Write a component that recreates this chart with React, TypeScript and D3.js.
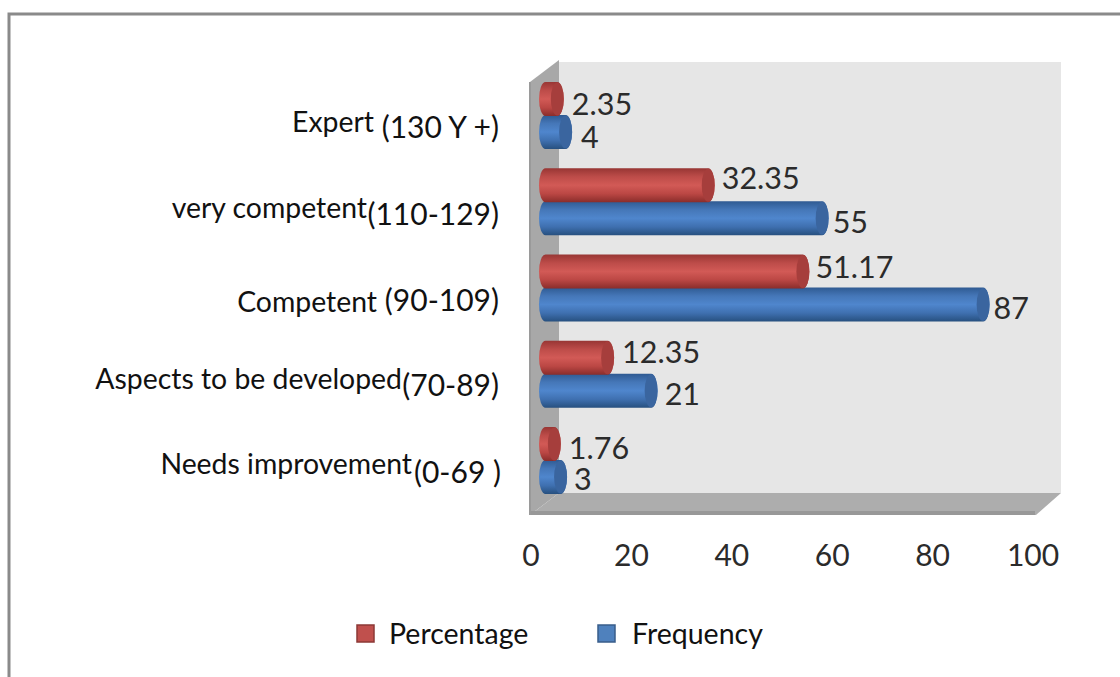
import React from "react";
import * as d3 from "d3";

const categories = ["Expert", "very competent", "Competent", "Aspects to be developed", "Needs improvement"];
const ranges = ["(130 Y +)", "(110-129)", "(90-109)", "(70-89)", "(0-69 )"];
const percentage = [2.35, 32.35, 51.17, 12.35, 1.76];
const frequency = [4, 55, 87, 21, 3];
const ticks = [0, 20, 40, 60, 80, 100];

// Hand-placed text offsets, as the labels sit slightly unevenly in this layout.
const percentageNudge = [[8, 4], [7, -8], [6, -6], [8, -7], [8, 3]];
const frequencyNudge = [[9, 4], [4, 3], [4, 2], [7, 2], [7, 1]];
const nameEnd = [374, 367, 377, 402, 412];
const nameY = [121, 207, 301, 378, 463];
const rangeEnd = [499, 499, 499, 499, 501];
const rangeY = [126, 213, 299, 384, 471];

const WIDTH = 1120;
const HEIGHT = 677;
const FONT = "Lato, 'Open Sans', sans-serif";

const tickX = d3.scaleLinear().domain([0, 100]).range([531, 1033]);
const barX = d3.scaleLinear().domain([0, 100]).range([545.5, 1048.5]);
const groupY = d3.scalePoint<string>().domain(categories).range([115, 460]);

const BAR_H = 34;
const CAP_RX = 6.5;

function barPath(x0: number, x1: number, cy: number) {
  const h = BAR_H / 2;
  return `M${x0},${cy - h} L${x1},${cy - h} A${CAP_RX},${h} 0 0 1 ${x1},${cy + h} L${x0},${cy + h} A${CAP_RX},${h} 0 0 1 ${x0},${cy - h} Z`;
}

function Bar({ value, cy, fill, cap }: { value: number; cy: number; fill: string; cap: string }) {
  const x0 = barX(0);
  const x1 = barX(value);
  return (
    <g>
      <path d={barPath(x0, x1, cy)} fill={`url(#${fill})`} />
      <ellipse cx={x1} cy={cy} rx={CAP_RX} ry={BAR_H / 2 - 0.5} fill={cap} />
    </g>
  );
}

function Gradient({ id, stops }: { id: string; stops: string[] }) {
  return (
    <linearGradient id={id} x1="0" y1="0" x2="0" y2="1">
      {stops.map((c, i) => (
        <stop key={i} offset={i / (stops.length - 1)} stopColor={c} />
      ))}
    </linearGradient>
  );
}

export default function App() {
  const backL = 559;
  const backR = 1061;
  const backT = 62;
  const backB = 493;
  const frontL = 530;
  const frontR = 1036;
  const frontB = 515;

  return (
    <svg
      width={WIDTH}
      height={HEIGHT}
      viewBox={`0 0 ${WIDTH} ${HEIGHT}`}
      style={{ position: "absolute", left: 0, top: 0, display: "block", background: "#fff" }}
      fontFamily={FONT}
    >
      <defs>
        <Gradient id="redBar" stops={["#983634", "#bd4c49", "#d25a56", "#bb4744", "#8a2d2b"]} />
        <Gradient id="blueBar" stops={["#2f5a92", "#4577b8", "#4f86cd", "#3f70b0", "#27507f"]} />
      </defs>

      {/* outer frame: only the top and left rules are inside the canvas */}
      <path d={`M${WIDTH},14 L9,14 L9,${HEIGHT}`} fill="none" stroke="#8a8a8a" strokeWidth={3} />

      {/* 3D plot box */}
      <rect x={backL} y={backT} width={backR - backL} height={backB - backT} fill="#e6e6e6" />
      <polygon points={`${frontL},${backT + 20} ${backL},${backT - 2} ${backL},${backB} ${frontL},${frontB}`} fill="#a8a8a8" />
      <polygon points={`${frontL},${frontB} ${backL},${backB} ${backR},${backB} ${frontR},${frontB}`} fill="#adadad" />
      <path d={`M${frontL},${frontB - 2} L${frontR - 1},${frontB - 2}`} stroke="#989898" strokeWidth={4} />
      <path d={`M${frontL},${backT + 20} L${frontL},${frontB}`} stroke="#9a9a9a" strokeWidth={2} />

      {/* bars: blue below, red overlapping it */}
      {categories.map((c, i) => {
        const cy = groupY(c)!;
        return (
          <g key={c}>
            <Bar value={frequency[i]} cy={cy + 17} fill="blueBar" cap="#3a659f" />
            <Bar value={percentage[i]} cy={cy - 16} fill="redBar" cap="#a63e3c" />
          </g>
        );
      })}

      {/* value labels */}
      <g fontSize={30.5} fill="#2b2b2b" dominantBaseline="central">
        {categories.map((c, i) => {
          const cy = groupY(c)!;
          return (
            <g key={c}>
              <text x={barX(percentage[i]) + CAP_RX + percentageNudge[i][0]} y={cy - 16 + percentageNudge[i][1]}>
                {percentage[i]}
              </text>
              <text x={barX(frequency[i]) + CAP_RX + frequencyNudge[i][0]} y={cy + 17 + frequencyNudge[i][1]}>
                {frequency[i]}
              </text>
            </g>
          );
        })}
      </g>

      {/* category names with their score ranges */}
      <g fill="#111" dominantBaseline="central" textAnchor="end">
        {categories.map((c, i) => (
          <g key={c}>
            <text x={nameEnd[i]} y={nameY[i]} fontSize={28.4}>{c}</text>
            <text x={rangeEnd[i]} y={rangeY[i]} fontSize={30}>{ranges[i]}</text>
          </g>
        ))}
      </g>

      {/* value axis */}
      <g fontSize={30} fill="#2b2b2b" textAnchor="middle" dominantBaseline="central">
        {ticks.map((t) => (
          <text key={t} x={tickX(t)} y={554}>{t}</text>
        ))}
      </g>

      {/* legend */}
      <g fontSize={28.5} fill="#111" dominantBaseline="central">
        <rect x={357} y={625} width={17} height={17} fill="#c0504d" stroke="#8c3836" strokeWidth={1.5} />
        <text x={389} y={633}>Percentage</text>
        <rect x={598} y={625} width={17} height={17} fill="#4f81bd" stroke="#385d8a" strokeWidth={1.5} />
        <text x={632} y={633}>Frequency</text>
      </g>
    </svg>
  );
}
